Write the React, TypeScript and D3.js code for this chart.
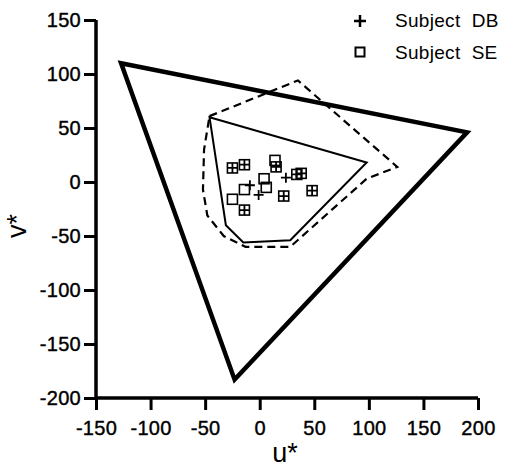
import * as d3 from 'd3';
import React from 'react';

// gamut outlines (u*, v*)
const monitorGamut = [[-127, 110], [190, 46], [-23, -183]];
const subjectDBGamut = [[-46, 60], [98, 18], [28, -54], [-15, -56], [-31, -40]];
const subjectSEGamut = [
  [-46, 61], [35, 94], [126, 14], [98, 3], [28, -60], [-13, -60],
  [-33, -50], [-48, -31], [-52, -7], [-51, 30],
];

// matched colours
const subjectDB = [
  [-25, 13], [-14, 16], [15, 14], [24, 4], [34, 7], [38, 8],
  [-9, -3], [-1, -12], [-14, -26], [22, -13], [48, -8],
];
const subjectSE = [
  [-25, 13], [-14, 16], [14, 20], [15, 14], [34, 7], [38, 8],
  [4, 3], [6, -5], [-14, -7], [-25, -16], [-14, -26], [22, -13], [48, -8],
];

const xTicks = [-150, -100, -50, 0, 50, 100, 150, 200];
const yTicks = [-200, -150, -100, -50, 0, 50, 100, 150];

const W = 506, H = 467;
const font = "'Liberation Sans', Arial, Helvetica, sans-serif";

function App() {
  const ref = React.useRef<SVGSVGElement>(null);

  React.useEffect(() => {
    const svg = d3.select(ref.current);
    svg.selectAll('*').remove();

    const x = d3.scaleLinear().domain([-150, 200]).range([96, 478]);
    const y = d3.scaleLinear().domain([-200, 150]).range([398, 20]);

    const line = d3.line<number[]>().x(d => x(d[0])).y(d => y(d[1])).curve(d3.curveLinearClosed);

    // axes
    const gx = svg.append('g').attr('transform', `translate(0,${y(-200)})`)
      .call(d3.axisBottom(x).tickValues(xTicks).tickSize(12).tickPadding(11).tickFormat(d => `${d}`));
    const gy = svg.append('g').attr('transform', `translate(${x(-150)},0)`)
      .call(d3.axisLeft(y).tickValues(yTicks).tickSize(12).tickPadding(3).tickFormat(d => `${d}`));
    [gx, gy].forEach(g => {
      g.select('.domain').attr('stroke', '#000').attr('stroke-width', 3.5);
      g.selectAll('.tick line').attr('stroke', '#000').attr('stroke-width', 3);
      g.selectAll('.tick text').attr('fill', '#000').attr('stroke', '#000').attr('stroke-width', 0.4)
        .attr('font-family', font).attr('font-size', 20).attr('letter-spacing', 0.3);
      g.attr('font-size', null).attr('font-family', null);
    });
    gy.select('.domain').attr('d', `M0,${y(150)}V${y(-200)}`);
    gx.select('.domain').attr('d', `M${x(-150)},0H${x(200)}`);

    svg.append('text').attr('x', 285).attr('y', 462).attr('text-anchor', 'middle')
      .attr('font-family', font).attr('font-size', 27).text('u*');
    svg.append('text').attr('transform', `translate(26,226) rotate(-90)`).attr('text-anchor', 'middle')
      .attr('font-family', font).attr('font-size', 27).text('v*');

    // outlines
    svg.append('path').attr('d', line(monitorGamut as any)).attr('fill', 'none')
      .attr('stroke', '#000').attr('stroke-width', 4.5).attr('stroke-linejoin', 'miter');
    svg.append('path').attr('d', line(subjectDBGamut as any)).attr('fill', 'none')
      .attr('stroke', '#000').attr('stroke-width', 2);
    svg.append('path').attr('d', line(subjectSEGamut as any)).attr('fill', 'none')
      .attr('stroke', '#000').attr('stroke-width', 2.2).attr('stroke-dasharray', '8,5');

    const s = 5;
    svg.append('g').selectAll('rect').data(subjectSE).join('rect')
      .attr('x', d => x(d[0]) - s).attr('y', d => y(d[1]) - s)
      .attr('width', 2 * s).attr('height', 2 * s)
      .attr('fill', 'none').attr('stroke', '#000').attr('stroke-width', 1.6);
    svg.append('g').selectAll('path').data(subjectDB).join('path')
      .attr('d', d => `M${x(d[0]) - s},${y(d[1])}H${x(d[0]) + s}M${x(d[0])},${y(d[1]) - s}V${y(d[1]) + s}`)
      .attr('stroke', '#000').attr('stroke-width', 1.8);

    // legend
    const lg = svg.append('g');
    lg.append('path').attr('d', 'M354,21H366M360,15V27').attr('stroke', '#000').attr('stroke-width', 2.5);
    lg.append('rect').attr('x', 355.5).attr('y', 47.5).attr('width', 9).attr('height', 9)
      .attr('fill', 'none').attr('stroke', '#000').attr('stroke-width', 2);
    lg.append('text').attr('x', 395).attr('y', 27).attr('font-family', font).attr('font-size', 19)
      .attr('letter-spacing', 0.3).attr('xml:space', 'preserve').text('Subject  DB');
    lg.append('text').attr('x', 395).attr('y', 59).attr('font-family', font).attr('font-size', 19)
      .attr('letter-spacing', 0.3).attr('xml:space', 'preserve').text('Subject  SE');
  }, []);

  return (
    <svg ref={ref} width={W} height={H}
      style={{ position: 'absolute', left: 0, top: 0, background: '#fff' }} />
  );
}

export default App;
